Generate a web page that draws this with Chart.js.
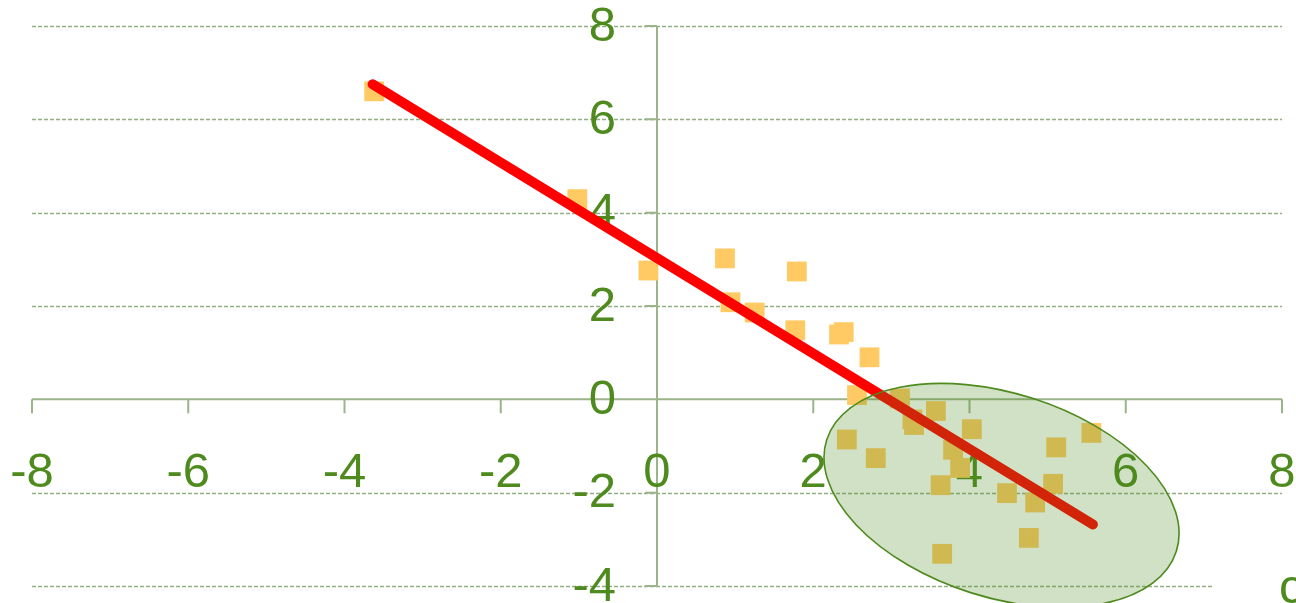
<!DOCTYPE html>
<html>
<head>
<meta charset="utf-8">
<script src="https://cdn.jsdelivr.net/npm/chart.js@4/dist/chart.umd.min.js"></script>
<style>
  html, body { margin: 0; padding: 0; background: #fff; }
  #chart { display: block; }
</style>
</head>
<body>
<canvas id="chart" width="1296" height="603"></canvas>
<script>
// puntos del diagrama de dispersion
var puntosX = [-3.62, -1.02, -0.11, 0.87, 1.79, 0.94, 1.25, 1.77, 2.33, 2.39, 2.72,
    2.56, 3.11, 3.27, 3.29, 3.57, 4.03, 2.43, 2.80, 3.79, 3.88, 3.63, 3.65,
    4.48, 4.84, 4.76, 5.07, 5.11, 5.56];
var puntosY = [6.60, 4.29, 2.76, 3.02, 2.74, 2.08, 1.86, 1.48, 1.39, 1.44, 0.90,
    0.09, 0.02, -0.43, -0.55, -0.25, -0.64, -0.86, -1.26, -1.08, -1.47, -1.84, -3.31,
    -2.01, -2.21, -2.97, -1.81, -1.03, -0.72];

// recta de tendencia (extremos)
var rectaX = [-3.64, 5.58];
var rectaY = [6.75, -2.68];

// marcas de los ejes
var ticksX = [-8, -6, -4, -2, 0, 2, 4, 6, 8];
var ticksY = [-4, -2, 0, 2, 4, 6, 8];

// elipse (centro en unidades del grafico)
var elipseCentro = { x: 4.41, y: -2.06 };

var verde = '#4e8a1e';
var colorEje = '#9bb48a';
var colorRejilla = '#93ad84';
var fuente = '49px "Liberation Sans", Arial, sans-serif';

var ejesPlugin = {
    id: 'ejes',
    beforeDatasetsDraw: function (chart) {
        var ctx = chart.ctx;
        var sx = chart.scales.x;
        var sy = chart.scales.y;
        var x0 = sx.getPixelForValue(0);
        var y0 = sy.getPixelForValue(0);
        var left = sx.getPixelForValue(-8);
        var right = sx.getPixelForValue(8);
        var top = sy.getPixelForValue(8);
        var bottom = sy.getPixelForValue(-4);

        ctx.save();
        // rejilla horizontal punteada
        ctx.strokeStyle = colorRejilla;
        ctx.lineWidth = 1.5;
        ctx.setLineDash([4, 2]);
        ticksY.forEach(function (v) {
            if (v === 0) return;
            var y = Math.round(sy.getPixelForValue(v)) + 0.5;
            ctx.beginPath();
            ctx.moveTo(left, y);
            ctx.lineTo(right, y);
            ctx.stroke();
        });
        ctx.setLineDash([]);

        // caja blanca del titulo cortado
        ctx.fillStyle = '#fff';
        ctx.fillRect(1213, 570, 83, 33);

        // ejes
        ctx.strokeStyle = colorEje;
        ctx.lineWidth = 2;
        ctx.beginPath();
        ctx.moveTo(left, y0);
        ctx.lineTo(right, y0);
        ctx.moveTo(x0, top);
        ctx.lineTo(x0, bottom);
        ticksX.forEach(function (v) {
            var x = sx.getPixelForValue(v);
            ctx.moveTo(x, y0);
            ctx.lineTo(x, y0 + 14);
        });
        ticksY.forEach(function (v) {
            var y = sy.getPixelForValue(v);
            ctx.moveTo(x0 - 12, y);
            ctx.lineTo(x0, y);
        });
        ctx.stroke();

        // etiquetas
        ctx.fillStyle = verde;
        ctx.font = fuente;
        ctx.textBaseline = 'middle';
        ctx.textAlign = 'right';
        ticksY.forEach(function (v) {
            ctx.fillText(String(v), x0 - 41, sy.getPixelForValue(v) + 1);
        });
        ctx.textAlign = 'center';
        ticksX.forEach(function (v) {
            ctx.fillText(String(v), sx.getPixelForValue(v), y0 + 74);
        });
        ctx.textAlign = 'left';
        ctx.textBaseline = 'alphabetic';
        ctx.fillText('c', 1279, 603);
        ctx.restore();
    },
    afterDatasetsDraw: function (chart) {
        var ctx = chart.ctx;
        var cx = chart.scales.x.getPixelForValue(elipseCentro.x);
        var cy = chart.scales.y.getPixelForValue(elipseCentro.y);
        ctx.save();
        ctx.beginPath();
        ctx.ellipse(cx, cy, 183.5, 102, 0.309, 0, Math.PI * 2);
        ctx.fillStyle = 'rgba(78, 138, 30, 0.26)';
        ctx.fill();
        ctx.strokeStyle = verde;
        ctx.lineWidth = 1.6;
        ctx.stroke();
        ctx.restore();
    }
};

var ctx = document.getElementById('chart').getContext('2d');

new Chart(ctx, {
    type: 'scatter',
    data: {
        datasets: [
            {
                type: 'line',
                data: rectaX.map(function (x, i) { return { x: x, y: rectaY[i] }; }),
                borderColor: '#ff0000',
                borderWidth: 10,
                borderCapStyle: 'round',
                pointRadius: 0,
                fill: false,
                order: 0
            },
            {
                data: puntosX.map(function (x, i) { return { x: x, y: puntosY[i] }; }),
                pointStyle: 'rect',
                pointRadius: 14,
                backgroundColor: '#ffca64',
                borderWidth: 0,
                order: 1
            }
        ]
    },
    options: {
        responsive: false,
        animation: false,
        layout: {
            padding: { left: 32, right: 6, top: 26, bottom: 17 }
        },
        plugins: {
            legend: { display: false },
            tooltip: { enabled: false }
        },
        scales: {
            x: { type: 'linear', min: -8, max: 8, display: false },
            y: { type: 'linear', min: -4, max: 8, display: false }
        }
    },
    plugins: [ejesPlugin]
});
</script>
</body>
</html>
